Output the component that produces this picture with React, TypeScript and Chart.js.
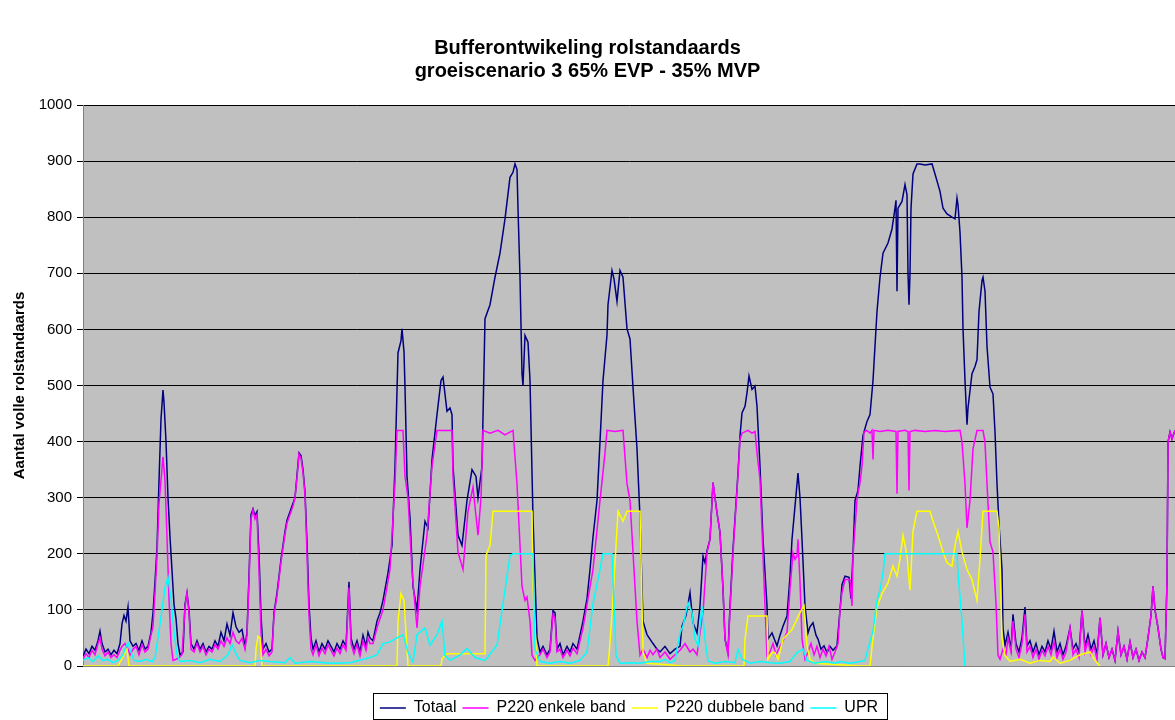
import React, { useEffect, useRef } from 'react';
import { Chart, registerables } from 'chart.js';

Chart.register(...registerables);

const TITLE_LINES = ['Bufferontwikeling rolstandaards', 'groeiscenario 3 65% EVP - 35% MVP'];
const Y_TITLE = 'Aantal volle rolstandaards';
const SERIES_NAMES = ['Totaal', 'P220 enkele band', 'P220 dubbele band', 'UPR'];
const SERIES_COLORS = ['#000080', '#FF00FF', '#FFFF00', '#00FFFF'];
const Y_MIN = 0;
const Y_MAX = 1000;
const Y_STEP = 100;
const T_MAX = 1092;

// [tijdstap, aantal]
const totaal: [number, number][] = [
  [0,18],[3,30],[6,22],[9,35],[12,28],[15,45],[17,62],[19,40],[22,25],[25,30],[28,20],[31,28],[34,22],[37,40],[39,75],[41,90],[43,80],[45,105],[47,45],[50,35],[53,40],[56,28],[59,45],[62,30],[65,35],[68,60],[70,95],[72,150],[74,210],[76,330],[78,440],[80,492],[81,470],[83,400],[85,300],[87,230],[89,170],[91,110],[93,85],[95,40],[97,20],[100,25],[102,110],[104,130],[106,100],[108,40],[111,30],[114,45],[117,30],[120,40],[123,25],[126,35],[129,30],[132,45],[135,35],[138,60],[141,45],[144,75],[147,55],[150,95],[153,70],[156,60],[159,65],[162,35],[164,60],[166,160],[168,270],[170,280],[172,268],[174,275],[176,200],[178,90],[180,30],[183,40],[186,25],[189,30],[191,95],[194,130],[196,160],[198,190],[200,215],[202,240],[204,260],[207,275],[210,290],[212,300],[214,340],[216,380],[218,375],[220,350],[222,310],[224,220],[226,110],[228,50],[230,30],[233,45],[236,25],[239,40],[242,30],[245,45],[248,35],[251,25],[254,40],[257,30],[260,45],[263,35],[266,150],[268,50],[271,30],[274,45],[277,25],[280,55],[283,35],[285,60],[287,50],
  [290,45],[294,80],[297,95],[300,117],[305,166],[309,215],[312,356],[315,558],[318,580],[319,601],[321,560],[322,497],[324,338],[327,264],[330,142],[334,99],[337,172],[342,258],[345,246],[349,368],[354,448],[358,509],[360,515],[364,454],[367,460],[369,448],[370,356],[375,233],[379,215],[384,295],[389,350],[393,338],[395,300],[399,356],[402,619],[407,644],[412,693],[417,736],[422,797],[427,871],[430,880],[432,895],[434,885],[435,816],[437,693],[439,521],[440,500],[442,589],[445,577],[447,509],[450,264],[454,50],[457,25],[460,35],[464,20],[467,30],[470,99],[472,95],[474,30],[477,40],[480,20],[484,35],[487,25],[490,40],[494,30],[497,55],[500,80],[504,120],[507,172],[510,230],[514,295],[517,400],[520,509],[524,590],[525,644],[529,705],[531,690],[534,650],[537,705],[540,693],[544,601],[547,583],[550,497],[554,387],[557,264],[560,80],[564,56],[570,40],[574,30],
  [577,25],[582,35],[587,22],[592,30],[597,35],[599,71],[603,90],[607,131],[610,77],[614,59],[617,107],[620,196],[622,184],[624,205],[627,226],[630,327],[634,273],[637,238],[640,137],[642,48],[645,24],[647,107],[650,208],[653,290],[655,344],[657,410],[659,451],[662,463],[664,487],[666,517],[669,493],[672,499],[674,463],[677,356],[680,226],[684,107],[685,48],[689,59],[692,45],[694,36],[697,55],[700,71],[704,89],[707,160],[709,226],[712,285],[715,344],[717,300],[719,226],[722,107],[725,59],[727,70],[730,77],[733,55],[735,48],[738,30],[741,36],[744,24],[747,35],[750,28],[754,36],
  [757,100],[759,145],[762,160],[766,158],[768,120],[770,200],[772,295],[775,313],[777,356],[780,411],[784,436],[787,448],[790,509],[794,632],[797,693],[800,736],[805,754],[809,779],[812,816],[813,830],[814,668],[815,816],[819,828],[822,858],[824,840],[825,700],[826,644],[827,700],[828,816],[830,877],[834,895],[837,895],[842,893],[849,895],[852,877],[857,846],[860,816],[864,806],[869,800],[872,797],[874,834],[875,822],[877,773],[879,693],[880,601],[882,509],[884,430],[885,460],[889,521],[892,534],[894,546],[896,632],[899,687],[900,693],[902,668],[904,570],[907,497],[910,485],[912,417],[914,325],[916,252],[919,172],[920,68],[922,37],
  [925,60],[928,30],[930,92],[933,40],[936,25],[939,50],[942,105],[944,35],[947,45],[950,25],[953,40],[956,20],[959,35],[962,25],[965,45],[968,30],[971,62],[974,25],[977,40],[980,20],[983,35],[987,68],[990,30],[993,40],[996,25],[999,99],[1002,35],[1005,56],[1008,30],[1011,45],[1014,20],[1017,86],[1020,20],[1023,40],[1026,15],[1029,30],[1032,10],[1035,62],[1038,20],[1041,35],[1044,12],[1047,43],[1050,15],[1053,30],[1056,10],[1059,25],[1062,15],[1065,50],[1068,90],[1070,142],[1072,100],[1075,68],[1078,30],[1080,15],[1082,13],[1084,150],[1085,399],[1087,417],[1089,405],[1092,420],
];

const p220Enkel: [number, number][] = [
  [0,12],[3,22],[6,15],[9,28],[12,20],[15,40],[17,50],[19,30],[22,18],[25,25],[28,15],[31,20],[34,15],[37,28],[39,35],[42,40],[45,30],[47,20],[50,30],[53,35],[56,20],[59,38],[62,25],[65,30],[68,55],[70,70],[72,130],[74,195],[76,290],[78,331],[80,373],[82,330],[84,230],[86,120],[88,40],[90,10],[93,12],[96,15],[99,20],[102,105],[104,130],[106,95],[108,30],[111,25],[114,40],[117,25],[120,35],[123,20],[126,30],[129,25],[132,38],[135,30],[138,45],[141,35],[144,50],[147,40],[150,60],[153,45],[156,40],[159,50],[162,30],[164,55],[166,150],[168,262],[170,278],[172,262],[174,270],[176,170],[178,60],[180,20],[183,30],[186,18],[189,25],[191,90],[194,125],[196,155],[198,185],[200,210],[202,235],[204,255],[207,270],[210,285],[212,300],[214,335],[216,378],[218,370],[220,345],[222,305],[224,200],[226,90],[228,30],[230,20],[233,38],[236,18],[239,32],[242,22],[245,38],[248,28],[251,18],[254,32],[257,22],[260,38],[263,28],[266,140],[268,40],[271,22],[274,38],[277,18],[280,45],[283,28],[285,50],[287,40],
  [290,40],[294,68],[300,100],[307,172],[312,325],[314,420],[320,420],[322,338],[325,300],[329,170],[334,68],[337,142],[344,233],[349,356],[354,420],[369,420],[370,338],[375,203],[380,172],[385,276],[390,319],[395,233],[398,300],[400,420],[407,415],[415,420],[422,412],[430,420],[434,325],[439,142],[442,117],[444,123],[447,80],[449,19],[452,10],[454,15],[457,20],[460,30],[464,15],[467,25],[470,92],[472,85],[474,25],[477,30],[480,15],[484,28],[487,18],[490,32],[494,22],[497,45],[500,68],[510,172],[517,295],[522,380],[524,420],[532,418],[540,420],[544,325],[547,295],[550,203],[554,80],[557,19],[560,30],[564,15],[567,28],[570,20],[574,30],
  [577,15],[582,25],[587,12],[592,20],[597,28],[602,40],[607,25],[610,30],[614,20],[617,60],[620,95],[624,202],[627,226],[630,327],[634,273],[637,238],[640,137],[642,48],[645,20],[647,100],[650,200],[653,285],[655,340],[657,404],[659,415],[665,420],[669,415],[672,418],[674,380],[677,333],[680,196],[684,18],[687,25],[690,40],[693,20],[697,35],[700,45],[704,60],[707,137],[710,202],[712,190],[714,196],[715,226],[717,150],[719,48],[722,12],[725,25],[728,40],[731,20],[734,35],[737,15],[740,30],[743,18],[746,35],[749,12],[752,25],[755,40],
  [757,100],[759,131],[762,154],[767,154],[769,107],[770,196],[774,297],[777,327],[779,356],[781,417],[784,420],[787,415],[789,420],[790,368],[791,420],[797,418],[805,420],[813,418],[814,307],[815,418],[822,420],[825,418],[826,313],[827,418],[832,420],[842,418],[852,420],[862,418],[877,420],[879,399],[882,325],[884,246],[887,295],[890,387],[894,420],[900,420],[902,399],[904,325],[907,221],[910,203],[913,111],[915,19],
  [917,12],[920,30],[923,20],[925,50],[928,25],[930,80],[933,30],[936,15],[939,40],[942,92],[944,25],[947,35],[950,15],[953,30],[956,12],[959,28],[962,18],[965,35],[968,20],[971,43],[974,15],[977,30],[980,12],[983,25],[987,68],[990,20],[993,30],[996,15],[999,99],[1002,25],[1005,45],[1008,20],[1011,35],[1014,12],[1017,86],[1020,20],[1023,40],[1026,15],[1029,30],[1032,10],[1035,62],[1038,20],[1041,35],[1044,12],[1047,43],[1050,15],[1053,30],[1056,10],[1059,25],[1062,15],[1065,50],[1068,90],[1070,142],[1072,100],[1075,68],[1078,30],[1080,15],[1082,13],[1084,150],[1085,399],[1087,417],[1089,405],[1092,420],
];

const p220Dubbel: [number, number][] = [
  [0,0],[35,0],[38,10],[41,20],[44,30],[46,0],[172,0],[173,30],[175,53],[177,50],[179,0],[314,0],[315,80],[318,129],[321,117],[323,60],[325,0],[358,0],[359,13],[364,22],[402,22],[403,197],[407,215],[410,276],[449,276],[450,142],[454,0],[525,0],[526,19],[529,92],[535,276],[540,258],[544,276],[557,276],[560,25],[564,5],[577,3],[600,0],[661,0],[662,48],[665,89],[684,89],[685,12],[689,24],[692,24],[695,12],[700,48],[709,65],[717,95],[721,107],[724,36],[727,12],[732,5],[747,3],[777,0],[787,0],[790,50],[794,105],[799,129],[805,148],[810,178],[814,160],[817,191],[820,233],[824,197],[827,135],[830,240],[834,276],[847,276],[850,258],[855,233],[860,203],[864,184],[869,178],[872,215],[875,240],[879,203],[884,172],[889,154],[894,117],[897,191],[900,276],[914,276],[916,246],[919,50],[922,19],[927,8],[937,12],[947,5],[957,10],[967,8],[970,16],[977,5],[987,10],[997,20],[1007,25],[1012,10],[1017,0],
];

const upr: [number, number][] = [
  [0,10],[5,15],[10,8],[15,18],[20,10],[25,12],[30,6],[35,10],[40,20],[43,35],[45,41],[48,25],[51,10],[57,8],[63,12],[69,8],[72,15],[75,50],[79,100],[82,140],[85,158],[88,120],[91,60],[94,20],[97,8],[107,10],[117,6],[127,12],[137,8],[145,20],[149,38],[152,25],[157,10],[167,6],[177,10],[187,8],[202,6],[207,15],[212,5],[227,8],[247,5],[267,6],[287,15],[294,20],[300,40],[307,43],[314,50],[320,56],[325,25],[330,7],[334,56],[342,68],[347,37],[354,56],[359,80],[362,19],[367,10],[377,20],[384,31],[392,15],[402,10],[414,37],[420,111],[427,197],[430,200],[450,200],[452,30],[457,8],[467,5],[477,8],[487,5],[497,10],[504,25],[510,111],[517,172],[520,200],[529,200],[533,19],[537,5],[547,6],[557,5],[567,8],[577,8],[582,12],[587,6],[592,10],[597,59],[600,71],[605,113],[609,95],[612,48],[615,36],[619,107],[622,48],[625,9],[632,5],[642,8],[652,6],[655,30],[659,12],[667,5],[677,8],[687,6],[697,5],[707,8],[714,24],[720,30],[724,10],[732,5],[742,8],[752,5],[757,8],[767,5],[777,8],[782,10],[785,31],[790,62],[794,117],[797,135],[800,166],[802,200],[874,200],[875,166],[879,80],[882,0],
];

const SERIES = [totaal, p220Enkel, p220Dubbel, upr];

const plotBackground = {
  id: 'plotBackground',
  beforeDraw(chart: any) {
    const { ctx, chartArea: a } = chart;
    ctx.save();
    ctx.fillStyle = '#C0C0C0';
    ctx.fillRect(a.left, a.top, a.right - a.left, a.bottom - a.top);
    ctx.restore();
  },
};

const legendFrame = {
  id: 'legendFrame',
  afterDraw(chart: any) {
    const lg = chart.legend;
    if (!lg || !lg.legendHitBoxes || !lg.legendHitBoxes.length) return;
    const hb = lg.legendHitBoxes;
    const left = Math.min(...hb.map((h: any) => h.left)) - 7;
    const right = Math.max(...hb.map((h: any) => h.left + h.width)) + 9;
    const cy = hb[0].top + hb[0].height / 2;
    const { ctx } = chart;
    ctx.save();
    ctx.strokeStyle = '#000000';
    ctx.lineWidth = 1;
    ctx.strokeRect(Math.round(left) + 0.5, Math.round(cy - 15) + 0.5, Math.round(right - left), 26);
    ctx.restore();
  },
};

export default function App() {
  const canvasRef = useRef<HTMLCanvasElement | null>(null);

  useEffect(() => {
    if (!canvasRef.current) return;
    Chart.defaults.font.family = 'Arial, "Liberation Sans", Helvetica, sans-serif';
    const datasets = SERIES.map((s, i) => ({
      label: SERIES_NAMES[i],
      data: s.map(([t, v]) => ({ x: t, y: v })),
      borderColor: SERIES_COLORS[i],
      backgroundColor: SERIES_COLORS[i],
      borderWidth: 1.5,
      pointRadius: 0,
      pointHoverRadius: 0,
      tension: 0,
      fill: false,
      order: SERIES.length - i,
    }));
    const chart = new Chart(canvasRef.current, {
      type: 'line',
      data: { datasets },
      options: {
        animation: false,
        responsive: false,
        devicePixelRatio: 1,
        events: [],
        layout: { padding: { left: 0, right: 0, top: 0, bottom: -6 } },
        scales: {
          x: {
            type: 'linear',
            min: 0,
            max: T_MAX,
            ticks: { display: false },
            grid: { display: false },
            border: { display: true, color: '#808080', width: 1 },
            afterFit(scale: any) { scale.height = 28; },
          },
          y: {
            min: Y_MIN,
            max: Y_MAX,
            ticks: {
              stepSize: Y_STEP,
              color: '#000000',
              font: { size: 15 },
              padding: 5,
              callback: (v: any) => String(v),
            },
            grid: { color: '#000000', lineWidth: 1, tickLength: 6, drawTicks: true },
            border: { display: true, color: '#808080', width: 1 },
            title: {
              display: true,
              text: Y_TITLE,
              color: '#000000',
              font: { size: 15, weight: 'bold' },
              padding: { top: 11, bottom: 0 },
            },
            afterFit(scale: any) { scale.width = 83; },
          },
        },
        plugins: {
          title: {
            display: true,
            text: TITLE_LINES,
            color: '#000000',
            font: { size: 20, weight: 'bold', lineHeight: 1.15 },
            padding: { top: 37, bottom: 22 },
          },
          legend: {
            display: true,
            position: 'bottom',
            fullSize: false,
            labels: {
              usePointStyle: true,
              pointStyle: 'line',
              pointStyleWidth: 26,
              color: '#000000',
              font: { size: 16 },
              padding: 6,
              sort: (a: any, b: any) => a.datasetIndex - b.datasetIndex,
            },
          },
          tooltip: { enabled: false },
        },
      } as any,
      plugins: [plotBackground, legendFrame],
    });
    return () => chart.destroy();
  }, []);

  return (
    <div style={{ position: 'absolute', left: 0, top: 0, width: 1175, height: 720, background: '#ffffff' }}>
      <canvas ref={canvasRef} width={1175} height={720} style={{ display: 'block' }} />
    </div>
  );
}
